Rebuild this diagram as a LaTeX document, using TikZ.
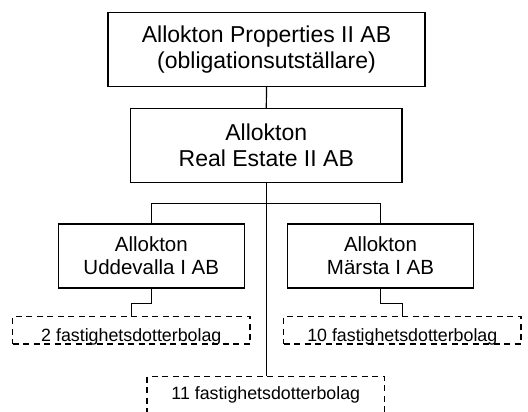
\documentclass[tikz,border=0pt]{standalone}
\usepackage{fontspec}
\setmainfont{Liberation Sans}
\begin{document}
\begin{tikzpicture}[x=1pt,y=-1pt,line width=1.2pt,
  solidbox/.style={draw,rectangle,inner sep=0pt,align=center},
  bigbox/.style={solidbox,font=\fontsize{23}{26}\selectfont,minimum height=74pt},
  midbox/.style={solidbox,font=\fontsize{20.5}{23.3}\selectfont,minimum width=186pt,minimum height=64pt},
  dashbox/.style={draw,rectangle,dash pattern=on 6pt off 4.5pt,inner sep=0pt,
    font=\fontsize{17.8}{20}\selectfont,minimum width=237.5pt,minimum height=27.5pt,
    text height=22.8pt,text depth=0pt},
  link/.style={draw}]
\useasboundingbox (0,0) rectangle (528,412);
\clip (0,0) rectangle (528,412);
\node[bigbox,minimum width=317pt] (top) at (266.5,49.3) {Allokton Properties II AB\\(obligationsutställare)};
\node[bigbox,minimum width=271.5pt] (mid) at (266.3,145.7) {Allokton\\Real Estate II AB};
\node[midbox] (left) at (151.3,256) {Allokton\\Uddevalla I AB};
\node[midbox] (right) at (380.5,256) {Allokton\\Märsta I AB};
\node[dashbox] (dl) at (131.3,330.3) {2 fastighetsdotterbolag};
\node[dashbox] (dr) at (402.3,330.3) {10 fastighetsdotterbolag};
\node[dashbox,minimum height=50pt,text height=10pt,text depth=14.6pt] (db) at (265.8,401.7) {11 fastighetsdotterbolag};
\coordinate (bar) at (266,203.3);
\draw[link] (top.south) -- (mid.north);
\draw[link] (mid.south) -- (mid.south |- db.north);
\draw[link] (left.north) |- (bar) -| (right.north);
\draw[link] (left.south) -- ++(0,15) -| (dl.north);
\draw[link] (right.south) -- ++(0,15) -| (dr.north);
\end{tikzpicture}
\end{document}
